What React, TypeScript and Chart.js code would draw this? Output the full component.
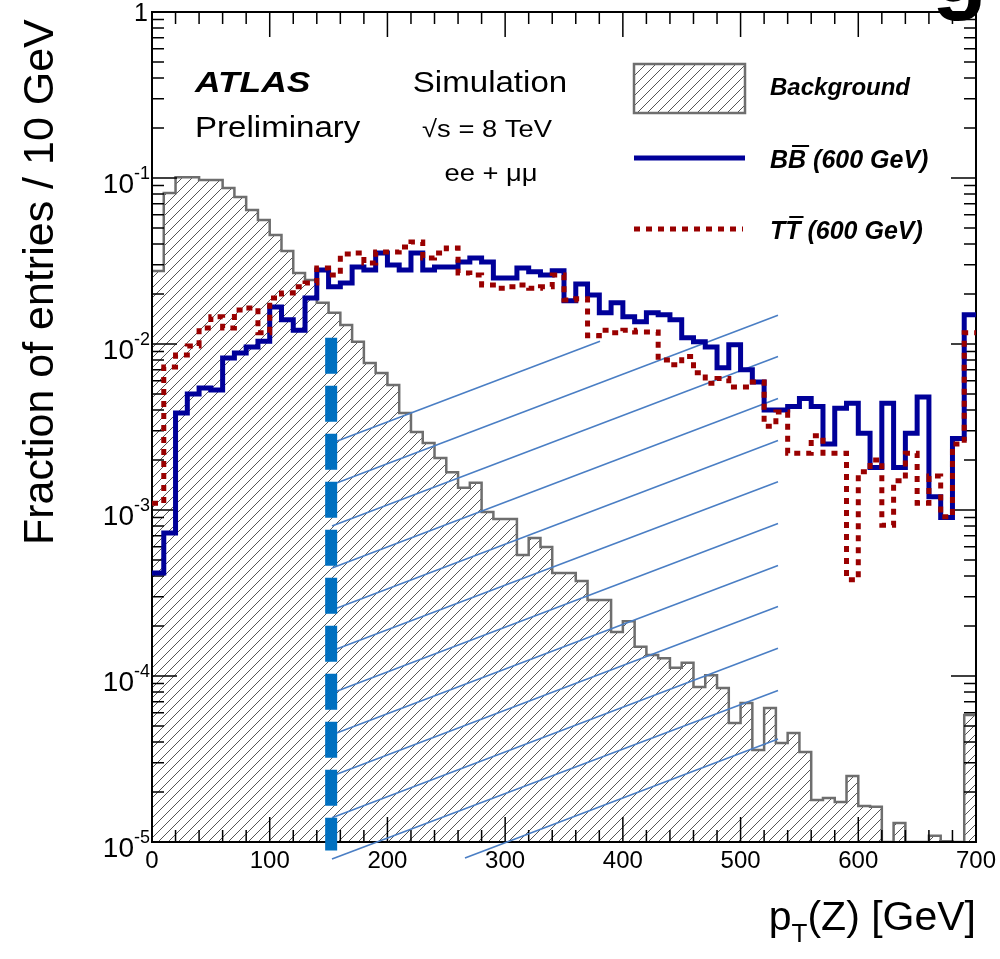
import React, { useEffect, useRef } from "react";
import { Chart, registerables } from "chart.js";

Chart.register(...registerables);

// ---------- data ----------
const BIN_WIDTH = 10;
const X_MIN = 0;
const X_MAX = 700;
const Y_MIN = 1e-5;
const Y_MAX = 1;

const background = [
  0.0275, 0.0813, 0.101, 0.101, 0.0973, 0.0973, 0.0871, 0.0768, 0.0642, 0.0558,
  0.0454, 0.0363, 0.0268, 0.0243, 0.0177, 0.0154, 0.013, 0.0103, 0.00769, 0.00669,
  0.00566, 0.00384, 0.00295, 0.00253, 0.00206, 0.00169, 0.00136, 0.00146, 0.000973, 0.000883,
  0.000883, 0.000536, 0.000678, 0.000598, 0.000417, 0.000417, 0.000373, 0.000287, 0.000287, 0.000184,
  0.000214, 0.00015, 0.000134, 0.000128, 0.000112, 0.00012, 0.0000859, 0.000101, 0.0000847, 0.0000521,
  0.0000688, 0.0000358, 0.0000641, 0.0000395, 0.0000454, 0.0000348, 0.0000179, 0.0000184, 0.0000174, 0.000025,
  0.0000165, 0.0000163, 0, 0.000013, 0, 0, 0.0000109, 0.0000101, 0, 0.0000582,
];

const bbSignal = [
  0.000417, 0.000727, 0.00384, 0.005, 0.00543, 0.00528, 0.00824, 0.00883, 0.00959, 0.0104,
  0.0167, 0.014, 0.0121, 0.0189, 0.0279, 0.0221, 0.0233, 0.0291, 0.0279, 0.0353,
  0.0299, 0.0279, 0.0353, 0.0279, 0.0291, 0.0291, 0.0312, 0.033, 0.0312, 0.025,
  0.025, 0.0287, 0.0272, 0.026, 0.0276, 0.0182, 0.023, 0.0197, 0.0154, 0.0177,
  0.0146, 0.0136, 0.0154, 0.015, 0.014, 0.0109, 0.0103, 0.0096, 0.0072, 0.0099,
  0.007, 0.0059, 0.004, 0.004, 0.0042, 0.0047, 0.0042, 0.0025, 0.0041, 0.0044,
  0.0029, 0.0018, 0.0044, 0.0018, 0.0029, 0.0048, 0.0012, 0.0009, 0.0027, 0.015,
];

const ttSignal = [
  0.0011, 0.00727, 0.00858, 0.00973, 0.0125, 0.0146, 0.0125, 0.016, 0.0165, 0.0117,
  0.0189, 0.0203, 0.0221, 0.0233, 0.0287, 0.026, 0.0348, 0.0353, 0.0308, 0.0358,
  0.0358, 0.0384, 0.0412, 0.033, 0.0353, 0.0379, 0.0268, 0.026, 0.0227, 0.0217,
  0.0221, 0.0227, 0.0217, 0.0221, 0.026, 0.0184, 0.0187, 0.0112, 0.0121, 0.0117,
  0.0121, 0.0118, 0.0118, 0.008, 0.0075, 0.0084, 0.0067, 0.0058, 0.0062, 0.0055,
  0.0055, 0.0059, 0.0032, 0.0039, 0.0022, 0.0022, 0.0028, 0.0022, 0.0022, 0.00038,
  0.0017, 0.002, 0.00081, 0.0015, 0.0022, 0.0011, 0.0016, 0.00091, 0.0025, 0.0117,
];

const xTickLabels = ["0", "100", "200", "300", "400", "500", "600", "700"];
const yTickExponents = [0, -1, -2, -3, -4, -5];
const X_MAJOR_STEP = 100;
const X_MINOR_STEP = 20;

// overlay: cut at ~150 GeV and the hatched "signal region" to its right
const cutValue = 152.2;
const cutTop = 0.0109;
const cutBottom = 0.0000089;

const slashX1 = [152.9, 152.9, 152.9, 152.9, 152.9, 152.9, 152.9, 152.9, 152.9, 152.9, 152.9, 265.9];
const slashY1 = [2.53e-3, 1.42e-3, 8.0e-4, 4.47e-4, 2.5e-4, 1.42e-4, 7.91e-5, 4.42e-5, 2.5e-5, 1.4e-5, 7.9e-6, 8.0e-6];
const slashX2 = [380.6, 531.8, 531.8, 531.8, 531.8, 531.8, 531.8, 531.8, 531.8, 531.8, 531.8, 531.8];
const slashY2 = [1.04e-2, 1.49e-2, 8.41e-3, 4.7e-3, 2.62e-3, 1.48e-3, 8.29e-4, 4.63e-4, 2.62e-4, 1.47e-4, 8.18e-5, 4.17e-5];

// ---------- styles ----------
const FONT = '"Liberation Sans", Arial, Helvetica, sans-serif';
const BLUE = "#000099";
const RED = "#990000";
const GRAY = "#6e6e6e";
const CUT_BLUE = "#0070c0";
const THIN_BLUE = "#4a7ec4";
const RED_DASH = [6, 6];

function histPoints(vals: number[]) {
  const pts = vals.map((v, i) => ({ x: X_MIN + i * BIN_WIDTH, y: v > 0 ? v : Y_MIN }));
  pts.push({ x: X_MIN + vals.length * BIN_WIDTH, y: pts[pts.length - 1].y });
  return pts;
}

function drawText(
  ctx: CanvasRenderingContext2D,
  s: string,
  x: number,
  y: number,
  font: string,
  align: "left" | "center" | "right" = "left",
  sx = 1,
  color = "#000"
) {
  ctx.save();
  ctx.font = font;
  ctx.fillStyle = color;
  ctx.textBaseline = "alphabetic";
  ctx.textAlign = "left";
  const w = ctx.measureText(s).width * sx;
  let x0 = x;
  if (align === "center") x0 = x - w / 2;
  else if (align === "right") x0 = x - w;
  ctx.translate(x0, y);
  ctx.scale(sx, 1);
  ctx.fillText(s, 0, 0);
  ctx.restore();
  return w;
}

function makeHatch(ctx: CanvasRenderingContext2D) {
  const H = 10;
  const pc = document.createElement("canvas");
  pc.width = H;
  pc.height = H;
  const p = pc.getContext("2d")!;
  p.strokeStyle = "#555555";
  p.lineWidth = 1;
  p.beginPath();
  p.moveTo(-1, H + 1);
  p.lineTo(H + 1, -1);
  p.moveTo(-1, 1);
  p.lineTo(1, -1);
  p.moveTo(H - 1, H + 1);
  p.lineTo(H + 1, H - 1);
  p.stroke();
  return ctx.createPattern(pc, "repeat")!;
}

export default function App() {
  const ref = useRef<HTMLCanvasElement>(null);

  useEffect(() => {
    document.body.style.margin = "0";
    const canvas = ref.current!;
    const ctx0 = canvas.getContext("2d")!;
    const hatch = makeHatch(ctx0);

    const axesPlugin = {
      id: "rootAxes",
      afterDatasetDraw(chart: any, args: any) {
        if (args.index !== 0) return;
        const ctx: CanvasRenderingContext2D = chart.ctx;
        const { left, right, top, bottom } = chart.chartArea;
        const xs = chart.scales.x;
        const ys = chart.scales.y;
        ctx.save();
        ctx.strokeStyle = "#000";
        ctx.lineWidth = 1.5;
        ctx.beginPath();
        for (let v = X_MIN; v <= X_MAX; v += X_MINOR_STEP) {
          const px = xs.getPixelForValue(v);
          const len = v % X_MAJOR_STEP === 0 ? 25 : 12;
          ctx.moveTo(px, bottom);
          ctx.lineTo(px, bottom - len);
          ctx.moveTo(px, top);
          ctx.lineTo(px, top + len);
        }
        for (const e of yTickExponents) {
          for (let m = 1; m <= 9; m++) {
            const v = m * Math.pow(10, e);
            if (v > Y_MAX * 1.0001) break;
            const py = ys.getPixelForValue(v);
            const len = m === 1 ? 25 : 12;
            ctx.moveTo(left, py);
            ctx.lineTo(left + len, py);
            ctx.moveTo(right, py);
            ctx.lineTo(right - len, py);
          }
        }
        ctx.stroke();
        ctx.lineWidth = 2;
        ctx.strokeRect(left, top, right - left, bottom - top);
        ctx.restore();
      },
      afterDraw(chart: any) {
        const ctx: CanvasRenderingContext2D = chart.ctx;
        const { left, right, bottom } = chart.chartArea;
        const xs = chart.scales.x;
        const ys = chart.scales.y;

        xTickLabels.forEach((t) => {
          const px = xs.getPixelForValue(Number(t));
          drawText(ctx, t, px, bottom + 26, `24px ${FONT}`, "center");
        });
        yTickExponents.forEach((e) => {
          const py = ys.getPixelForValue(Math.pow(10, e));
          if (e === 0) {
            drawText(ctx, "1", left - 4, py + 9, `25px ${FONT}`, "right");
          } else {
            ctx.save();
            ctx.font = `18px ${FONT}`;
            const sup = `-${-e}`;
            const ws = ctx.measureText(sup).width;
            ctx.restore();
            drawText(ctx, sup, left - 2, py + 1, `18px ${FONT}`, "right");
            drawText(ctx, "10", left - 2 - ws, py + 15, `28px ${FONT}`, "right");
          }
        });

        ctx.save();
        ctx.translate(53, 545);
        ctx.rotate(-Math.PI / 2);
        drawText(ctx, "Fraction of entries / 10 GeV", 0, 0, `43px ${FONT}`, "left");
        ctx.restore();

        {
          ctx.save();
          ctx.font = `41px ${FONT}`;
          const wRest = ctx.measureText("(Z) [GeV]").width;
          const wP = ctx.measureText("p").width;
          ctx.font = `26px ${FONT}`;
          const wT = ctx.measureText("T").width;
          ctx.restore();
          const x0 = right - wRest - wT - wP;
          drawText(ctx, "p", x0, 930, `41px ${FONT}`);
          drawText(ctx, "T", x0 + wP, 942, `26px ${FONT}`);
          drawText(ctx, "(Z) [GeV]", x0 + wP + wT, 930, `41px ${FONT}`);
        }

        drawText(ctx, "g", 932, 2, `bold 90px ${FONT}`);

        drawText(ctx, "ATLAS", 195, 92, `italic bold 30px ${FONT}`, "left", 1.18);
        drawText(ctx, "Preliminary", 195, 137, `29px ${FONT}`, "left", 1.14);
        drawText(ctx, "Simulation", 490, 92, `29px ${FONT}`, "center", 1.14);
        drawText(ctx, "\u221As = 8 TeV", 487, 137, `24px ${FONT}`, "center", 1.14);
        drawText(ctx, "ee + \u03BC\u03BC", 491, 181, `24px ${FONT}`, "center", 1.14);

        ctx.save();
        ctx.fillStyle = hatch;
        ctx.fillRect(634, 64, 111, 49);
        ctx.strokeStyle = GRAY;
        ctx.lineWidth = 2.5;
        ctx.strokeRect(634, 64, 111, 49);
        ctx.strokeStyle = BLUE;
        ctx.lineWidth = 5;
        ctx.beginPath();
        ctx.moveTo(634, 158);
        ctx.lineTo(745, 158);
        ctx.stroke();
        ctx.strokeStyle = RED;
        ctx.setLineDash(RED_DASH);
        ctx.beginPath();
        ctx.moveTo(634, 229);
        ctx.lineTo(743, 229);
        ctx.stroke();
        ctx.restore();

        const lf = `italic bold 24px ${FONT}`;
        const lf2 = `italic bold 25px ${FONT}`;
        drawText(ctx, "Background", 770, 95, lf);
        const barLabel = (letter: string, y: number) => {
          let x = 770;
          x += drawText(ctx, letter, x, y, lf2);
          const w2 = drawText(ctx, letter, x, y, lf2);
          ctx.save();
          ctx.strokeStyle = "#000";
          ctx.lineWidth = 2;
          ctx.beginPath();
          ctx.moveTo(x + 4, y - 22);
          ctx.lineTo(x + w2 + 3, y - 22);
          ctx.stroke();
          ctx.restore();
          x += w2;
          drawText(ctx, " (600 GeV)", x, y, lf2);
        };
        barLabel("B", 168);
        barLabel("T", 239);
      },
    };

    const slashSets = slashX1.map((x1, i) => ({
      label: `region${i}`,
      data: [
        { x: x1, y: slashY1[i] },
        { x: slashX2[i], y: slashY2[i] },
      ],
      borderColor: THIN_BLUE,
      borderWidth: 1.6,
      pointRadius: 0,
      fill: false,
      clip: false as any,
      order: 5,
    }));

    const chart = new Chart(canvas, {
      type: "line",
      data: {
        datasets: [
          {
            label: "Background",
            data: histPoints(background),
            stepped: "before",
            borderColor: GRAY,
            borderWidth: 2.5,
            backgroundColor: hatch as any,
            fill: "start",
            pointRadius: 0,
            order: 10,
          },
          ...slashSets,
          {
            label: "BB (600 GeV)",
            data: histPoints(bbSignal),
            stepped: "before",
            borderColor: BLUE,
            borderWidth: 5,
            fill: false,
            pointRadius: 0,
            order: 3,
          },
          {
            label: "TT (600 GeV)",
            data: histPoints(ttSignal),
            stepped: "before",
            borderColor: RED,
            borderWidth: 5,
            borderDash: RED_DASH,
            fill: false,
            pointRadius: 0,
            order: 2,
          },
          {
            label: "cut",
            data: [
              { x: cutValue, y: cutTop },
              { x: cutValue, y: cutBottom },
            ],
            borderColor: CUT_BLUE,
            borderWidth: 12,
            borderDash: [36, 12],
            fill: false,
            pointRadius: 0,
            clip: false as any,
            order: 1,
          },
        ] as any,
      },
      options: {
        animation: false,
        responsive: false,
        maintainAspectRatio: false,
        layout: { padding: { left: 152, right: 24, top: 12, bottom: 117 } },
        scales: {
          x: { type: "linear", min: X_MIN, max: X_MAX, display: false },
          y: { type: "logarithmic", min: Y_MIN, max: Y_MAX, display: false },
        },
        plugins: { legend: { display: false }, tooltip: { enabled: false } },
        elements: { point: { radius: 0 }, line: { tension: 0 } },
      },
      plugins: [axesPlugin],
    });
    return () => chart.destroy();
  }, []);

  return (
    <div style={{ position: "relative", width: 1000, height: 959, background: "#fff" }}>
      <canvas ref={ref} width={1000} height={959} style={{ display: "block" }} />
    </div>
  );
}
